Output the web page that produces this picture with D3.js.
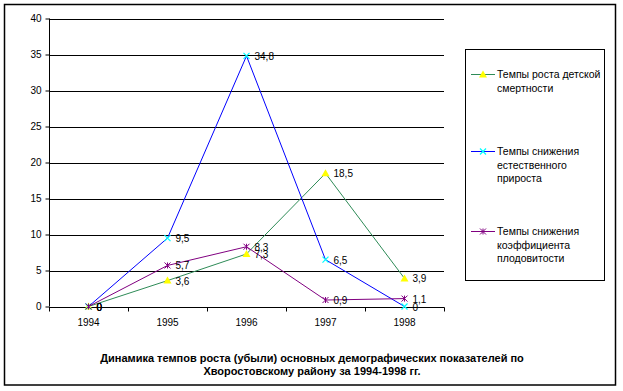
<!DOCTYPE html>
<html>
<head>
<meta charset="utf-8">
<script src="https://cdnjs.cloudflare.com/ajax/libs/d3/7.8.5/d3.min.js"></script>
<style>
  body { margin: 0; background: #fff; }
  svg { font-family: "Liberation Sans", Arial, sans-serif; }
  .axis path, .axis line { stroke: #000; }
  .axis text { font-size: 10px; fill: #000; }
</style>
</head>
<body>
<div id="chart"></div>
<script>
(function () {

  // data
  var years = ["1994", "1995", "1996", "1997", "1998"]
  var childMortality = [0, 3.6, 7.3, 18.5, 3.9]
  var naturalGrowth = [0, 9.5, 34.8, 6.5, 0]
  var fertility = [0, 5.7, 8.3, 0.9, 1.1]
  var yTicks = [0, 5, 10, 15, 20, 25, 30, 35, 40]
  var seriesNames = [
    ["Темпы роста детской", "смертности"],
    ["Темпы снижения", "естественного", "прироста"],
    ["Темпы снижения", "коэффициента", "плодовитости"]
  ]
  var titleLines = [
    "Динамика темпов роста (убыли) основных демографических показателей по",
    "Хворостовскому району за 1994-1998 гг."
  ]

  var series = [
    { values: childMortality, line: "#2E8B57", marker: "triangle", mcolor: "#FFFF00" },
    { values: naturalGrowth, line: "#0000FF", marker: "cross", mcolor: "#00FFFF" },
    { values: fertility, line: "#800080", marker: "star", mcolor: "#800080" }
  ]

  var W = 623, H = 391
  var svg = d3.select("#chart").append("svg")
    .attr("width", W)
    .attr("height", H)

  // outer frame
  svg.append("rect")
    .attr("x", 4.5).attr("y", 4.5)
    .attr("width", 611).attr("height", 380.5)
    .attr("fill", "none").attr("stroke", "#000").attr("stroke-width", 1.5)

  var x = d3.scaleBand().domain(years).range([49, 444]).paddingInner(0).paddingOuter(0)
  var y = d3.scaleLinear().domain([0, 40]).range([306.5, 18.5])
  var cx = function (i) { return x(years[i]) + x.bandwidth() / 2 }

  // gridlines
  svg.append("g").selectAll("line")
    .data(yTicks.filter(function (d) { return d > 0 }))
    .enter().append("line")
    .attr("x1", 49).attr("x2", 444)
    .attr("y1", function (d) { return Math.round(y(d)) + 0.5 })
    .attr("y2", function (d) { return Math.round(y(d)) + 0.5 })
    .attr("stroke", "#000")

  // y axis
  var yAxis = d3.axisLeft(y).tickValues(yTicks).tickSize(4).tickPadding(4)
  svg.append("g")
    .attr("class", "axis")
    .attr("transform", "translate(49.5,0)")
    .call(yAxis)
    .call(function (g) { g.select(".domain").attr("d", "M0," + y(40) + "V" + y(0)) })

  // x axis, ticks between categories
  var xAxis = d3.axisBottom(x).tickSize(0).tickPadding(11)
  var xg = svg.append("g")
    .attr("class", "axis")
    .attr("transform", "translate(0," + (Math.round(y(0)) + 0.5) + ")")
    .call(xAxis)
  xg.select(".domain").attr("d", "M49,0H444.5")
  xg.selectAll(".sep")
    .data(d3.range(years.length + 1))
    .enter().append("line")
    .attr("x1", function (i) { return Math.round(49 + i * x.bandwidth()) + 0.5 })
    .attr("x2", function (i) { return Math.round(49 + i * x.bandwidth()) + 0.5 })
    .attr("y1", 0).attr("y2", 4)
    .attr("stroke", "#000")

  function drawMarker(g, type, color) {
    if (type === "triangle") {
      g.append("path").attr("d", "M0,-4L4,3L-4,3Z").attr("fill", color)
    } else if (type === "cross") {
      g.append("path").attr("d", "M-3,-3L3,3M-3,3L3,-3").attr("stroke", color).attr("stroke-width", 1.2)
    } else {
      g.append("path").attr("d", "M-3,-3L3,3M-3,3L3,-3M0,-3V3").attr("stroke", color).attr("stroke-width", 1)
    }
  }

  var line = d3.line()
    .x(function (d, i) { return cx(i) })
    .y(function (d) { return y(d) })

  series.forEach(function (s) {
    svg.append("path")
      .datum(s.values)
      .attr("d", line)
      .attr("fill", "none")
      .attr("stroke", s.line)
      .attr("stroke-width", 1)

    s.values.forEach(function (v, i) {
      var g = svg.append("g").attr("transform", "translate(" + cx(i) + "," + y(v) + ")")
      drawMarker(g, s.marker, s.mcolor)
    })
  })

  // data labels
  series.forEach(function (s) {
    s.values.forEach(function (v, i) {
      svg.append("text")
        .attr("x", cx(i) + 8)
        .attr("y", y(v) + 4)
        .attr("font-size", 10)
        .attr("fill", "#000")
        .text(String(v).replace(".", ","))
    })
  })

  // legend
  svg.append("rect")
    .attr("x", 465.5).attr("y", 49.5)
    .attr("width", 139).attr("height", 231)
    .attr("fill", "#fff").attr("stroke", "#000")

  var legendY = [74, 151, 231]
  series.forEach(function (s, k) {
    var g = svg.append("g").attr("transform", "translate(0," + legendY[k] + ")")
    g.append("line").attr("x1", 471).attr("x2", 495).attr("y1", 0.5).attr("y2", 0.5)
      .attr("stroke", s.line)
    var m = g.append("g").attr("transform", "translate(483,0.5)")
    drawMarker(m, s.marker, s.mcolor)
    seriesNames[k].forEach(function (t, j) {
      g.append("text")
        .attr("x", 497)
        .attr("y", 4 + j * 13.5)
        .attr("font-size", 10.5)
        .attr("fill", "#000")
        .text(t)
    })
  })

  // title
  svg.append("g").selectAll("text")
    .data(titleLines)
    .enter().append("text")
    .attr("x", 312)
    .attr("y", function (d, i) { return 362 + i * 13 })
    .attr("text-anchor", "middle")
    .attr("font-size", 11)
    .attr("font-weight", "bold")
    .text(function (d) { return d })

})()
</script>
</body>
</html>
